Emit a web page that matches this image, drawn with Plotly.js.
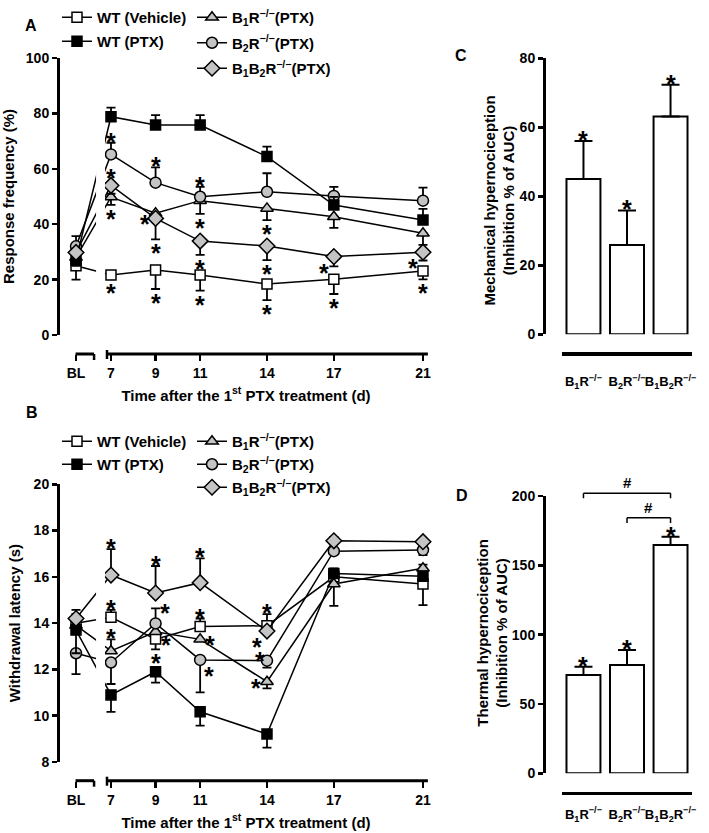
<!DOCTYPE html>
<html><head><meta charset="utf-8">
<script src="https://cdn.plot.ly/plotly-3.0.1.min.js"></script>
<style>html,body{margin:0;padding:0;background:#fff}</style>
</head><body><div id="chart" style="width:709px;height:833px"></div>
<script>
// ---------- DATA ----------
const dayLabels = ['BL', '7', '9', '11', '14', '17', '21'];
const days = [7, 9, 11, 14, 17, 21];

// Panel A – response frequency (%)
const vehA = [25, 21.7, 23.5, 21.7, 18.4, 20.1, 23.1];
const vehA_up = [0, 0, 0, 0, 0, 0, 0];
const vehA_dn = [5, 1.5, 6.9, 5.7, 5.8, 5.3, 3];
const ptxA = [27, 78.8, 75.8, 75.8, 64.4, 46.9, 41.5];
const ptxA_up = [3, 3.3, 3.6, 3.6, 3.6, 3, 4];
const ptxA_dn = [0, 0, 0, 0, 0, 0, 0];
const b1A = [28, 49.8, 44, 48.5, 45.7, 42.7, 36.7];
const b1A_up = [0, 0, 0, 0, 0, 0, 0];
const b1A_dn = [3, 2.8, 3, 4.8, 4.2, 4, 4.2];
const b2A = [32, 65.2, 55, 49.9, 51.7, 50.2, 48.5];
const b2A_up = [3.7, 4.2, 5.5, 3.6, 6.7, 3.3, 4.7];
const b2A_dn = [0, 0, 0, 0, 0, 0, 0];
const b12A = [29.8, 54, 42.1, 33.9, 32.1, 28.3, 29.9];
const b12A_up = [0, 0, 0, 0, 0, 0, 0];
const b12A_dn = [3, 3, 7.6, 5, 5.1, 3.5, 3];

// Panel B – withdrawal latency (s)
const vehB = [14.0, 14.25, 13.31, 13.85, 13.89, 16.0, 15.69];
const vehB_up = [0.4, 0.32, 0, 0.35, 0.5, 0, 0];
const vehB_dn = [0, 0, 0.44, 0, 0, 1.25, 0.91];
const ptxB = [13.7, 10.9, 11.9, 10.17, 9.21, 16.15, 16.03];
const ptxB_up = [0, 0, 0, 0, 0, 0.22, 0];
const ptxB_dn = [1.0, 0.73, 0.47, 0.6, 0.59, 0, 0];
const b1B = [13.9, 12.8, 13.63, 13.3, 11.47, 15.69, 16.37];
const b1B_up = [0, 0.5, 0, 0, 0, 0, 0.16];
const b1B_dn = [0, 0, 0, 0, 0.29, 0, 0];
const b2B = [12.7, 12.3, 13.99, 12.41, 12.38, 17.11, 17.16];
const b2B_up = [0, 0, 0.65, 0, 0, 0, 0];
const b2B_dn = [0.9, 0.93, 0, 1.4, 0.3, 0, 0.22];
const b12B = [14.2, 16.08, 15.3, 15.75, 13.66, 17.56, 17.52];
const b12B_up = [0.37, 1.12, 1.17, 1.05, 0, 0.17, 0.1];
const b12B_dn = [0, 0, 0, 0, 0, 0, 0];

// Panels C and D – inhibition % of AUC
const groups = ['B<sub>1</sub>R<sup>−/−</sup>', 'B<sub>2</sub>R<sup>−/−</sup>', 'B<sub>1</sub>B<sub>2</sub>R<sup>−/−</sup>'];
const mechVals = [45, 25.9, 63.1];
const mechErr = [11, 10, 9.2];
const thermVals = [70.9, 78.1, 164.7];
const thermErr = [6, 10.8, 5.9];

// significance marks: [series, point index, placement]
const starsA = [
  ['veh',1,'down'],['veh',2,'down'],['veh',3,'down'],['veh',4,'down'],['veh',5,'down'],['veh',6,'down'],
  ['b2',1,'up'],['b2',2,'up'],['b2',3,'up'],
  ['b12',1,'up'],['b12',2,'left'],['b12',2,'down'],['b12',3,'down'],['b12',4,'down'],['b12',5,'downleft'],['b12',6,'downleft'],
  ['b1',1,'down'],['b1',3,'down'],['b1',4,'down']
];
const starsB = [
  ['b12',1,'up'],['veh',1,'up'],['b1',1,'up'],
  ['b12',2,'up'],['b2',2,'upright'],['veh',2,'right'],['veh',2,'down'],
  ['b12',3,'up'],['veh',3,'up'],['b1',3,'right'],['b2',3,'downright'],
  ['veh',4,'up'],['b12',4,'downleft'],['b2',4,'upleft'],['b1',4,'left']
];
const starsC = [0, 1, 2];
const starsD = [0, 1, 2];
const hashPairs = [[0, 2], [1, 2]];
const hashLevels = [[198.3, 201.9], [180.5, 184.3]];

// ---------- LAYOUT HELPERS ----------
const W = 709, H = 833;
const fx = p => p / W;
const fy = p => 1 - p / H;
const FONT = 'Liberation Sans, Arial, Helvetica, sans-serif';
const bold = (size) => ({family: FONT, size: size, color: 'black', weight: 'bold'});
const blPos = 5.43;
const xs = [blPos].concat(days);
const xRange = [4.622, 21.494];

const style = {
  veh: {name: 'WT (Vehicle)', symbol: 'square', color: 'white', size: 10, legend: 0},
  b1:  {name: 'B<sub>1</sub>R<sup>−/−</sup>(PTX)', symbol: 'triangle-up', color: '#c4c4c4', size: 11, legend: 1},
  b2:  {name: 'B<sub>2</sub>R<sup>−/−</sup>(PTX)', symbol: 'circle', color: '#c4c4c4', size: 11, legend: 1},
  ptx: {name: 'WT (PTX)', symbol: 'square', color: 'black', size: 10, legend: 0},
  b12: {name: 'B<sub>1</sub>B<sub>2</sub>R<sup>−/−</sup>(PTX)', symbol: 'diamond', color: '#c4c4c4', size: 12, legend: 1}
};
const order = ['veh', 'b1', 'b2', 'ptx', 'b12'];

const dataA = {veh: [vehA, vehA_up, vehA_dn], ptx: [ptxA, ptxA_up, ptxA_dn], b1: [b1A, b1A_up, b1A_dn], b2: [b2A, b2A_up, b2A_dn], b12: [b12A, b12A_up, b12A_dn]};
const dataB = {veh: [vehB, vehB_up, vehB_dn], ptx: [ptxB, ptxB_up, ptxB_dn], b1: [b1B, b1B_up, b1B_dn], b2: [b2B, b2B_up, b2B_dn], b12: [b12B, b12B_up, b12B_dn]};

const traces = [];
function addLineTraces(data, xa, ya, legends) {
  order.forEach(k => {
    const s = style[k];
    const [y, up, dn] = data[k];
    traces.push({
      type: 'scatter', mode: 'lines+markers', x: xs, y: y, xaxis: xa, yaxis: ya,
      name: s.name, legend: legends[s.legend], legendgroup: xa + k,
      line: {color: 'black', width: 1.5},
      marker: {symbol: s.symbol, size: s.size, color: s.color, line: {color: 'black', width: 1.5}},
      error_y: {type: 'data', symmetric: false, array: up, arrayminus: dn, color: 'black', thickness: 1.8, width: 4.5},
      cliponaxis: false
    });
  });
}
addLineTraces(dataA, 'x', 'y', ['legend', 'legend2']);
addLineTraces(dataB, 'x2', 'y2', ['legend3', 'legend4']);

function addBars(vals, err, xa, ya) {
  traces.push({
    type: 'bar', x: groups, y: vals, xaxis: xa, yaxis: ya, showlegend: false,
    marker: {color: 'white', line: {color: 'black', width: 2}},
    error_y: {type: 'data', symmetric: false, array: err, arrayminus: err.map(() => 0), color: 'black', thickness: 2, width: 9},
    cliponaxis: false
  });
}
addBars(mechVals, mechErr, 'x3', 'y3');
addBars(thermVals, thermErr, 'x4', 'y4');

// ---------- ANNOTATIONS ----------
const STAR_SIZE = 25;
const STAR_BASE = -6;
const annotations = [];
function star(xref, yref, x, y, dx, dy) {
  annotations.push({xref: xref, yref: yref, x: x, y: y, text: '*', showarrow: false,
    xshift: dx, yshift: dy + STAR_BASE, font: bold(STAR_SIZE)});
}
function addStars(specs, data, xa, ya) {
  specs.forEach(([k, i, where]) => {
    const [y, up, dn] = data[k];
    let yy = y[i], dx = 0, dy = 0;
    if (where === 'up') { if (up[i] > 0) { yy = y[i] + up[i]; dy = 7; } else { dy = 13; } }
    else if (where === 'down') { if (dn[i] > 0) { yy = y[i] - dn[i]; dy = -8; } else { dy = -13; } }
    else if (where === 'left') { dx = -11; }
    else if (where === 'right') { dx = 10; }
    else if (where === 'upright') { yy = y[i] + up[i]; dx = 9; dy = 1; }
    else if (where === 'downright') { dx = 9; dy = -10; }
    else if (where === 'downleft') { dx = -10; dy = -10; }
    else if (where === 'upleft') { dx = -7; dy = 6; }
    star(xa, ya, xs[i], yy, dx, dy);
  });
}
addStars(starsA, dataA, 'x', 'y');
addStars(starsB, dataB, 'x2', 'y2');
starsC.forEach(i => star('x3', 'y3', groups[i], mechVals[i] + mechErr[i], 0, 7));
starsD.forEach(i => star('x4', 'y4', groups[i], thermVals[i] + thermErr[i], 0, 7));

// panel letters
[['A', 31, 25], ['B', 32, 412], ['C', 461, 56], ['D', 462, 495]].forEach(([t, px, py]) => {
  annotations.push({xref: 'paper', yref: 'paper', x: fx(px), y: fy(py), text: t, showarrow: false,
    xanchor: 'center', yanchor: 'middle', font: bold(16)});
});

// y-axis titles of the bar panels (two-line, rotated)
[['Mechanical hypernociception<br>(Inhibition % of AUC)', 499.5, 201],
 ['Thermal hypernociception<br>(Inhibition % of AUC)', 491.7, 633]].forEach(([t, px, py]) => {
  annotations.push({xref: 'paper', yref: 'paper', x: fx(px), y: fy(py), text: t, showarrow: false,
    textangle: -90, xanchor: 'center', yanchor: 'middle', font: bold(15)});
});

// ---------- SHAPES ----------
const shapes = [];
function brokenXAxis(xa, yPix, yd) {
  const p = fy(yPix);
  const ln = {color: 'black', width: 3};
  shapes.push({type: 'line', xref: xa, yref: 'paper', x0: blPos - 0.02, x1: 6.24, y0: p, y1: p, line: ln});
  shapes.push({type: 'line', xref: xa, yref: 'paper', x0: 6.24, x1: 6.24, y0: p, y1: p - 6 / H, line: {color: 'black', width: 2.5}});
  shapes.push({type: 'line', xref: xa, yref: 'paper', x0: 6.82, x1: 6.82, y0: p + 4 / H, y1: p - 5 / H, line: {color: 'black', width: 2.5}});
  shapes.push({type: 'line', xref: xa, yref: 'paper', x0: 6.82, x1: 21.22, y0: p, y1: p, line: ln});
  // gap in the connecting lines at the axis break
  shapes.push({type: 'rect', xref: xa, yref: yd, x0: 6.33, x1: 6.73, y0: 0, y1: 1, fillcolor: 'white', line: {width: 0}, layer: 'above'});
}
brokenXAxis('x', 354, 'y domain');
brokenXAxis('x2', 780.7, 'y2 domain');

// panel D comparison brackets (value -> paper, so they are not clipped above the axis range)
const dTop = 496, dBot = 773.3, dRange = [0, 200];
const y4paper = v => fy(dBot) + (v - dRange[0]) / (dRange[1] - dRange[0]) * (fy(dTop) - fy(dBot));
hashPairs.forEach(([a, b], j) => {
  const [lo, hi] = hashLevels[j];
  const ln = {color: 'black', width: 1.5};
  shapes.push({type: 'line', xref: 'x4', yref: 'paper', x0: a, x1: b, y0: y4paper(hi), y1: y4paper(hi), line: ln});
  shapes.push({type: 'line', xref: 'x4', yref: 'paper', x0: a, x1: a, y0: y4paper(lo), y1: y4paper(hi), line: ln});
  shapes.push({type: 'line', xref: 'x4', yref: 'paper', x0: b, x1: b, y0: y4paper(lo), y1: y4paper(hi), line: ln});
  annotations.push({xref: 'x4', yref: 'paper', x: (a + b) / 2, y: y4paper(hi), text: '#', showarrow: false,
    yanchor: 'bottom', yshift: 0, font: bold(15)});
});

// ---------- AXES ----------
function timeX(domainPos) {
  return {
    domain: [fx(58), fx(434)], range: xRange, anchor: 'free', position: domainPos,
    showline: false, zeroline: false, showgrid: false,
    tickmode: 'array', tickvals: xs, ticktext: dayLabels,
    ticks: 'outside', ticklen: 6, tickwidth: 2.5, tickcolor: 'black', tickfont: bold(14),
    title: {text: 'Time after the 1<sup>st</sup> PTX treatment (d)', font: bold(15), standoff: 10}
  };
}
function valY(top, bottom, range, dtick, title, xPix, standoff) {
  const ax = {
    domain: [fy(bottom), fy(top)], range: range, anchor: 'free', position: fx(xPix),
    showline: true, linewidth: 3, linecolor: 'black', zeroline: false, showgrid: false,
    tick0: range[0], dtick: dtick, ticks: 'outside', ticklen: 5, tickwidth: 2.5, tickcolor: 'black',
    tickfont: bold(14)
  };
  if (title) ax.title = {text: title, font: bold(15), standoff: standoff};
  return ax;
}
function groupX(linePix, standoff) {
  return {
    domain: [fx(561.7), fx(692.3)], type: 'category', anchor: 'free', position: fy(linePix),
    showline: true, linewidth: 3.5, linecolor: 'black', ticks: '', showgrid: false, zeroline: false,
    tickfont: bold(13), ticklabelstandoff: standoff, tickangle: 0
  };
}

function legendAt(px, py, gap) {
  return {x: fx(px), y: fy(py), xanchor: 'left', yanchor: 'top', bgcolor: 'rgba(0,0,0,0)',
    font: bold(15), itemwidth: 30, traceorder: 'grouped', tracegroupgap: gap, borderwidth: 0};
}

const layout = {
  width: W, height: H, margin: {l: 0, r: 0, t: 0, b: 0},
  paper_bgcolor: 'white', plot_bgcolor: 'rgba(0,0,0,0)',
  font: bold(14), bargap: 0.22, showlegend: true,
  xaxis: timeX(fy(354)),
  yaxis: valY(58, 335, [0, 100], 20, 'Response frequency (%)', 58, 8),
  xaxis2: timeX(fy(780.7)),
  yaxis2: valY(484.3, 762, [8, 20], 2, 'Withdrawal latency (s)', 58, 8),
  xaxis3: groupX(353.3, 15),
  yaxis3: valY(58.3, 334.3, [0, 80], 20, null, 544, 0),
  xaxis4: groupX(792.7, 8),
  yaxis4: valY(496, 773.3, [0, 200], 50, null, 544, 0),
  legend: legendAt(57, 1, 1.5),
  legend2: legendAt(192, 1, 3),
  legend3: legendAt(57, 425, 0.5),
  legend4: legendAt(192, 425, 0.5),
  annotations: annotations,
  shapes: shapes
};

Plotly.newPlot('chart', traces, layout, {displayModeBar: false, staticPlot: true});
</script>
</body></html>
